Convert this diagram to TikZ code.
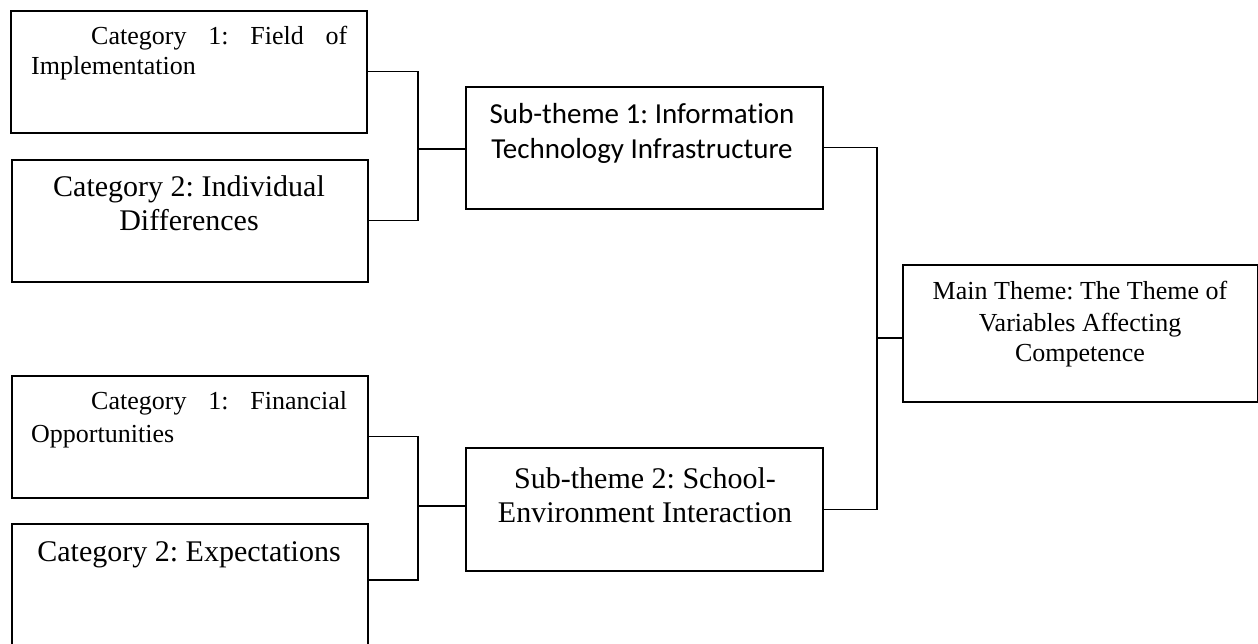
\documentclass[tikz,border=0pt]{standalone}
\usepackage{fontspec}
\setmainfont{Liberation Serif}
\newfontfamily\calibfont[Ligatures=NoCommon]{Carlito}
\usetikzlibrary{calc}
\frenchspacing
\begin{document}
\begin{tikzpicture}[x=1pt,y=-1pt,
  box/.style={draw, line width=1.6pt, inner sep=0pt, anchor=north west},
  conn/.style={draw, line width=1.2pt},
  smalltxt/.style={inner sep=0pt, font=\fontsize{26}{30}\selectfont},
  bigtxt/.style={inner sep=0pt, font=\fontsize{30}{34}\selectfont},
  calibtxt/.style={inner sep=0pt, font=\calibfont\fontsize{29}{34}\selectfont}]
\useasboundingbox (0,0) rectangle (1258,644);

% boxes
\node[box, minimum width=356pt, minimum height=122pt] (A) at (10,10) {};
\node[box, minimum width=356pt, minimum height=122pt] (B) at (11,159) {};
\node[box, minimum width=356pt, minimum height=122pt] (C) at (11,375) {};
\node[box, minimum width=356pt, minimum height=140pt] (D) at (11,523) {};
\node[box, minimum width=357pt, minimum height=122pt] (S1) at (465,86) {};
\node[box, minimum width=357pt, minimum height=123pt] (S2) at (465,447) {};
\node[box, minimum width=355pt, minimum height=137pt] (M) at (902,264) {};

% texts
\node[smalltxt, anchor=base west] (tA1) at (91,45) {\makebox[256pt][s]{Category 1: Field of}};
\node[smalltxt, anchor=base west] (tA2) at (31,75) {Implementation};
\node[bigtxt, anchor=base] (tB1) at (189,197) {Category 2: Individual};
\node[bigtxt, anchor=base] (tB2) at (189,231) {Differences};
\node[smalltxt, anchor=base west] (tC1) at (91,409) {\makebox[256pt][s]{Category 1: Financial}};
\node[smalltxt, anchor=base west] (tC2) at (31,442) {Opportunities};
\node[bigtxt, anchor=base] (tD1) at (189,561) {Category 2: Expectations};
\node[calibtxt, anchor=base] (tS11) at (642,124) {Sub-theme 1: Information};
\node[calibtxt, anchor=base] (tS12) at (642,159) {Technology Infrastructure};
\node[bigtxt, anchor=base] (tS21) at (645,488) {Sub-theme 2: School-};
\node[bigtxt, anchor=base] (tS22) at (645,522) {Environment Interaction};
\node[smalltxt, anchor=base] (tM1) at (1080,300) {Main Theme: The Theme of};
\node[smalltxt, anchor=base] (tM2) at (1080,331) {Variables Affecting};
\node[smalltxt, anchor=base] (tM3) at (1080,361) {Competence};

% connectors
\coordinate (j1) at (418,149);
\coordinate (j2) at (418,506);
\coordinate (j3) at (877,338);
\coordinate (dE) at ($(D.north east)+(0,57)$);
\draw[conn] (A.east) -| (j1) |- (B.east);
\draw[conn] (j1) -- (S1.west |- j1);
\draw[conn] (C.east) -| (j2) |- (dE);
\draw[conn] (j2) -- (S2.west |- j2);
\draw[conn] (S1.east) -| (j3) |- (S2.east);
\draw[conn] (j3) -- (M.west |- j3);
\end{tikzpicture}
\end{document}
